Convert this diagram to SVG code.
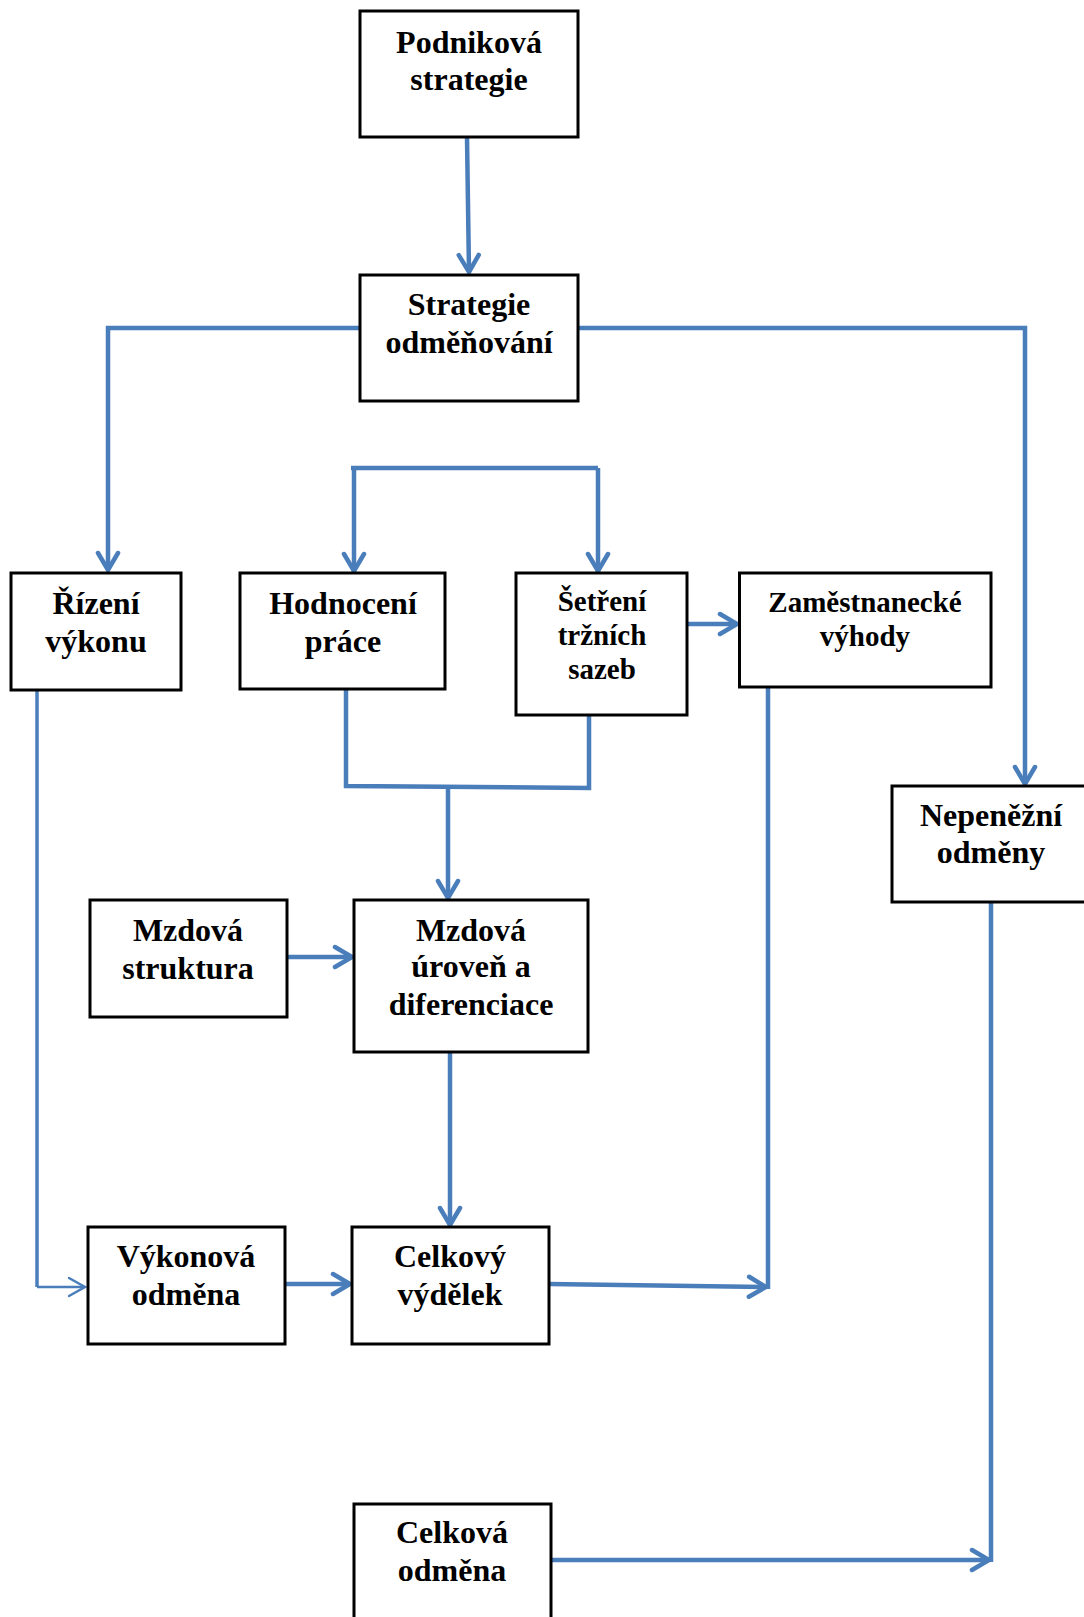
<svg xmlns="http://www.w3.org/2000/svg" width="1084" height="1617" viewBox="0 0 1084 1617">
<defs>
<style>
.box{fill:#fff;stroke:#000;stroke-width:3}
.t{font-family:"Liberation Serif","Times New Roman",serif;font-weight:bold;font-size:32px;fill:#000;text-anchor:middle}
.s{font-size:29px}
.c{fill:none;stroke:#4a7ebb;stroke-width:4.5;stroke-linejoin:miter}
.thin{stroke-width:2.5}
</style>
<marker id="ah" viewBox="-22 -14 26 28" refX="0" refY="0" markerWidth="26" markerHeight="28" orient="auto" markerUnits="userSpaceOnUse">
<path d="M-17,-10 L0,0 L-17,10" fill="none" stroke="#4a7ebb" stroke-width="4.5" stroke-linecap="round"/>
</marker>
<marker id="aht" viewBox="-22 -14 26 28" refX="0" refY="0" markerWidth="26" markerHeight="28" orient="auto" markerUnits="userSpaceOnUse">
<path d="M-16,-9 L0,0 L-16,9" fill="none" stroke="#4a7ebb" stroke-width="2.5" stroke-linecap="round"/>
</marker>
</defs>
<rect width="1084" height="1617" fill="#fff"/>
<g id="connectors">
<path class="c" d="M467,137 L469,272" marker-end="url(#ah)"/>
<path class="c" d="M360,328 H108 V570" marker-end="url(#ah)"/>
<path class="c" d="M578,328 H1025 V784" marker-end="url(#ah)"/>
<path class="c" d="M351,468 H598"/>
<path class="c" d="M354,468 V571" marker-end="url(#ah)"/>
<path class="c" d="M598,468 V571" marker-end="url(#ah)"/>
<path class="c" d="M687,624 H737" marker-end="url(#ah)"/>
<path class="c" d="M346,689 V786 L589,788 V715"/>
<path class="c" d="M448,786 V898" marker-end="url(#ah)"/>
<path class="c" d="M287,957 H352" marker-end="url(#ah)"/>
<path class="c" d="M450,1052 V1225" marker-end="url(#ah)"/>
<path class="c" style="stroke-width:3.5" d="M37,690 V1287"/>
<path class="c thin" d="M37,1287 H85" marker-end="url(#aht)"/>
<path class="c" d="M285,1284 H350" marker-end="url(#ah)"/>
<path class="c" d="M549,1284 L766,1287" marker-end="url(#ah)"/>
<path class="c" d="M768,687 V1289"/>
<path class="c" d="M991,902 V1562"/>
<path class="c" d="M551,1560 H989" marker-end="url(#ah)"/>
</g>
<g id="podnikova">
<rect class="box" x="360" y="11" width="218" height="126"/>
<text class="t" x="469" y="53">Podniková</text>
<text class="t" x="469" y="90">strategie</text>
</g>
<g id="strategie">
<rect class="box" x="360" y="275" width="218" height="126"/>
<text class="t" x="469" y="315">Strategie</text>
<text class="t" x="469" y="353">odměňování</text>
</g>
<g id="rizeni">
<rect class="box" x="11" y="573" width="170" height="117"/>
<text class="t" x="96" y="614">Řízení</text>
<text class="t" x="96" y="652">výkonu</text>
</g>
<g id="hodnoceni">
<rect class="box" x="240" y="573" width="205" height="116"/>
<text class="t" x="343" y="614">Hodnocení</text>
<text class="t" x="343" y="652">práce</text>
</g>
<g id="setreni">
<rect class="box" x="516" y="573" width="171" height="142"/>
<text class="t s" x="602" y="611">Šetření</text>
<text class="t s" x="602" y="645">tržních</text>
<text class="t s" x="602" y="679">sazeb</text>
</g>
<g id="zamestnanecke">
<rect class="box" x="739.5" y="573" width="251.5" height="114"/>
<text class="t s" x="865" y="612">Zaměstnanecké</text>
<text class="t s" x="865" y="646">výhody</text>
</g>
<g id="nepenezni">
<rect class="box" x="892" y="786" width="200" height="116"/>
<text class="t" x="991" y="826">Nepeněžní</text>
<text class="t" x="991" y="863">odměny</text>
</g>
<g id="mzdova-struktura">
<rect class="box" x="90" y="900" width="197" height="117"/>
<text class="t" x="188" y="941">Mzdová</text>
<text class="t" x="188" y="979">struktura</text>
</g>
<g id="mzdova-uroven">
<rect class="box" x="354" y="900" width="234" height="152"/>
<text class="t" x="471" y="941">Mzdová</text>
<text class="t" x="471" y="977">úroveň a</text>
<text class="t" x="471" y="1015">diferenciace</text>
</g>
<g id="vykonova">
<rect class="box" x="88" y="1227" width="197" height="117"/>
<text class="t" x="186" y="1267">Výkonová</text>
<text class="t" x="186" y="1305">odměna</text>
</g>
<g id="celkovy">
<rect class="box" x="352" y="1227" width="197" height="117"/>
<text class="t" x="450" y="1267">Celkový</text>
<text class="t" x="450" y="1305">výdělek</text>
</g>
<g id="celkova">
<rect class="box" x="354" y="1504" width="197" height="130"/>
<text class="t" x="452" y="1543">Celková</text>
<text class="t" x="452" y="1581">odměna</text>
</g>
</svg>
